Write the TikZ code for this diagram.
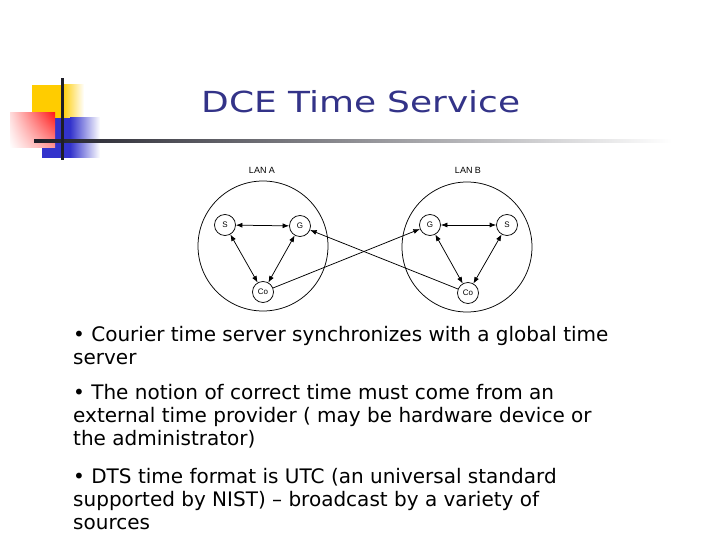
\documentclass[tikz,border=0pt]{standalone}
\usepackage{fontspec}
\setmainfont{DejaVu Sans}
\newfontfamily\labfont{Liberation Sans}
\usetikzlibrary{arrows.meta,shadings}
\definecolor{titleblue}{RGB}{51,51,136}
\definecolor{gold}{RGB}{255,204,0}
\definecolor{logoblue}{RGB}{51,51,204}
\definecolor{logored}{RGB}{255,25,25}
\definecolor{barcol}{RGB}{30,30,40}
\begin{document}
\begin{tikzpicture}[x=1pt,y=-1pt,
  sub/.style={draw, circle, minimum size=21pt, inner sep=0pt, font=\labfont\fontsize{8}{8}\selectfont, line width=0.75pt},
  lan/.style={draw, circle, minimum size=130pt, inner sep=0pt, line width=0.75pt},
  lanlabel/.style={font=\labfont\fontsize{9}{9}\selectfont, inner sep=0pt},
  tip/.style={line width=0.75pt, -{Latex[length=6.5pt,width=5pt]}},
  dtip/.style={line width=0.75pt, {Latex[length=6.5pt,width=5pt]}-{Latex[length=6.5pt,width=5pt]}},
  body/.style={anchor=base west, inner sep=0pt, font=\fontsize{20}{24}\selectfont}]
\useasboundingbox (0,0) rectangle (720,540);
\fill[white] (0,0) rectangle (720,540);

% logo
\fill[gold] (32,85) rectangle (62,118);
\shade[left color=gold, right color=white] (62,85) rectangle (84,118);
\fill[logoblue] (42,118) rectangle (70,158);
\shade[left color=logoblue, right color=white] (70,118) rectangle (100,158);
\shade[upper right=logored, upper left=logored!15, lower right=logored!45, lower left=white] (10,113) rectangle (55,148);
\shade[left color=barcol, right color=white] (34,139.5) rectangle (672,142.5);
\fill[barcol] (60.5,78) rectangle (63.5,160);

% title
\node[anchor=base, text=titleblue, inner sep=0pt, font=\fontsize{29}{29}\selectfont] (title) at (361,113) {\scalebox{1.24}[1]{DCE Time Service}};

% diagram
\node[lan] (lanA) at (263,246) {};
\node[lan] (lanB) at (467,247) {};
\node[lanlabel] (labA) at (262,170) {LAN A};
\node[lanlabel] (labB) at (468,170) {LAN B};

\node[sub] (aS) at (225,225) {S};
\node[sub] (aG) at (300,226) {G};
\node[sub] (aCo) at (263,292) {Co};
\node[sub] (bG) at (430,225) {G};
\node[sub] (bS) at (507,225) {S};
\node[sub] (bCo) at (468,293) {Co};

\draw[dtip] (aS) -- (aG);
\draw[dtip] (aS) -- (aCo);
\draw[dtip] (aG) -- (aCo);
\draw[dtip] (bG) -- (bS);
\draw[dtip] (bG) -- (bCo);
\draw[dtip] (bS) -- (bCo);
\draw[tip] (aCo) -- (bG);
\draw[tip] (bCo) -- (aG);

% text
\node[body] (t1) at (73,341) {• Courier time server synchronizes with a global time};
\node[body] (t2) at (73,364) {server};
\node[body] (t3) at (73,399) {• The notion of correct time must come from an};
\node[body] (t4) at (73,422) {external time provider ( may be hardware device or};
\node[body] (t5) at (73,445) {the administrator)};
\node[body] (t6) at (73,483) {• DTS time format is UTC (an universal standard};
\node[body] (t7) at (73,506) {supported by NIST) – broadcast by a variety of};
\node[body] (t8) at (73,529) {sources};
\end{tikzpicture}
\end{document}
